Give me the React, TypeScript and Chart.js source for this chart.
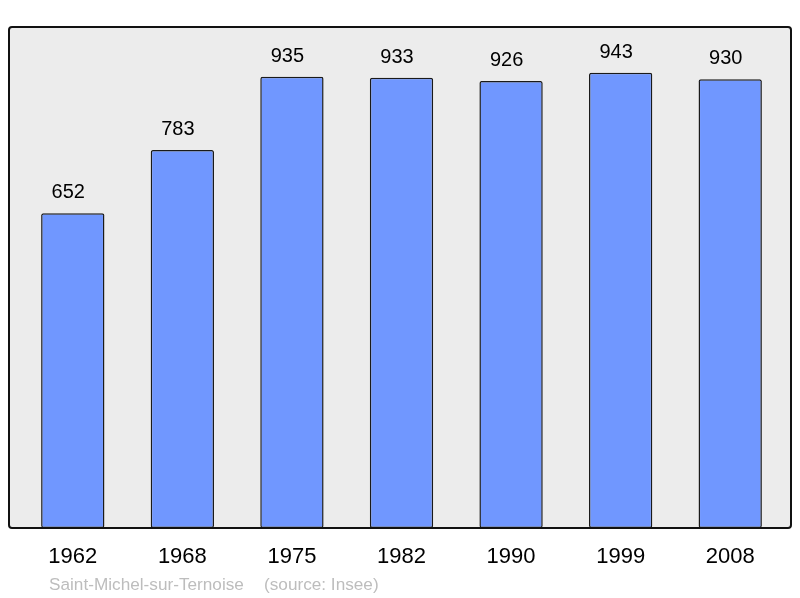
import React, { useEffect, useRef } from "react";
import { Chart, registerables } from "chart.js";

Chart.register(...registerables);

const years = ["1962", "1968", "1975", "1982", "1990", "1999", "2008"];
const population = [652, 783, 935, 933, 926, 943, 930];
const footerPlace = "Saint-Michel-sur-Ternoise";
const footerSource = "(source: Insee)";

const FONT = "'Liberation Sans', Arial, sans-serif";

const framePlugin = {
  id: "frame",
  beforeDraw(chart: any) {
    const ctx = chart.ctx;
    const { top, bottom } = chart.chartArea;
    const x0 = 9, x1 = 791;
    ctx.save();
    ctx.beginPath();
    ctx.roundRect(x0, top, x1 - x0, bottom - top, 3);
    ctx.fillStyle = "#ececec";
    ctx.fill();
    ctx.restore();
  },
  afterDatasetsDraw(chart: any) {
    const ctx = chart.ctx;
    const { top, bottom } = chart.chartArea;
    const x0 = 9, x1 = 791;
    ctx.save();
    ctx.beginPath();
    ctx.roundRect(x0, top, x1 - x0, bottom - top, 3);
    ctx.lineWidth = 2;
    ctx.strokeStyle = "#111";
    ctx.stroke();
    // value labels
    const meta = chart.getDatasetMeta(0);
    ctx.fillStyle = "#000";
    ctx.font = `20px ${FONT}`;
    ctx.textAlign = "center";
    ctx.textBaseline = "alphabetic";
    meta.data.forEach((bar: any, i: number) => {
      ctx.fillText(String(population[i]), bar.x - 4.5, bar.y - 15);
    });
    // footer
    ctx.fillStyle = "#bdbdbd";
    ctx.font = `17.2px ${FONT}`;
    ctx.textAlign = "left";
    ctx.fillText(footerPlace, 49, 590);
    ctx.fillText(footerSource, 264, 590);
    ctx.restore();
  },
};

export default function App() {
  const ref = useRef<HTMLCanvasElement>(null);
  useEffect(() => {
    const chart = new Chart(ref.current!, {
      type: "bar",
      data: {
        labels: years,
        datasets: [
          {
            data: population,
            backgroundColor: "#7097ff",
            borderColor: "#1a1a1a",
            borderWidth: 1.5,
            borderRadius: 2,
            borderSkipped: false,
            barPercentage: 0.578,
            categoryPercentage: 1,
          },
        ],
      },
      options: {
        animation: false,
        responsive: false,
        layout: { padding: { left: 18, right: 15, top: 27, bottom: 0 } },
        plugins: { legend: { display: false }, tooltip: { enabled: false } },
        scales: {
          x: {
            grid: { display: false, drawTicks: false },
            border: { display: false },
            ticks: {
              color: "#000",
              font: { size: 22, family: FONT },
              padding: 16,
              maxRotation: 0,
            },
            afterFit(scale: any) {
              scale.height = 70;
            },
          },
          y: { display: false, min: 0, max: 1038 },
        },
      },
      plugins: [framePlugin],
    });
    return () => chart.destroy();
  }, []);
  return (
    <div style={{ position: "absolute", left: 0, top: 0, width: 800, height: 598, background: "#fff" }}>
      <canvas ref={ref} width={800} height={598} />
    </div>
  );
}
